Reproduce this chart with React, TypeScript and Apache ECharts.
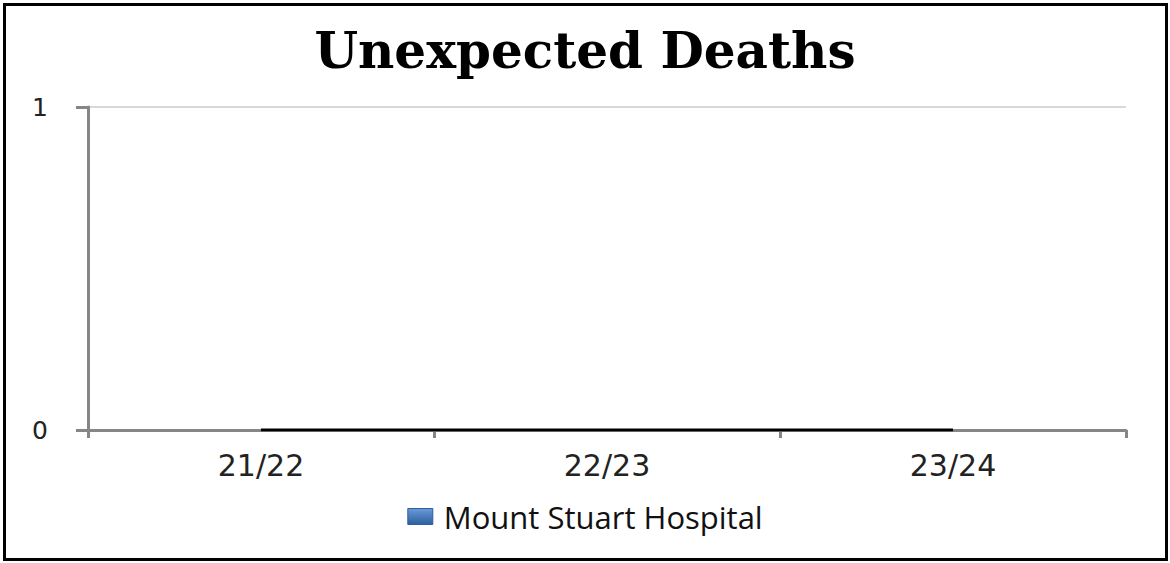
import React, { useEffect, useRef } from "react";
import * as echarts from "echarts";

const categories = ["21/22", "22/23", "23/24"];
const seriesName = "Mount Stuart Hospital";
const values = [0, 0, 0];
const yMin = 0;
const yMax = 1;
const yInterval = 1;
const titleText = "Unexpected Deaths";

export default function App() {
  const ref = useRef<HTMLDivElement>(null);
  useEffect(() => {
    document.body.style.margin = "0";
    if (!ref.current) return;
    const chart = echarts.init(ref.current, undefined, { renderer: "svg" });
    chart.setOption({
      animation: false,
      backgroundColor: "#ffffff",
      title: {
        text: titleText,
        left: "center",
        top: 20,
        textStyle: {
          fontFamily: "DejaVu Serif",
          fontWeight: "bold",
          fontSize: 50,
          color: "#000",
        },
      },
      legend: {
        bottom: 26,
        left: "center",
        itemWidth: 25,
        itemHeight: 16,
        data: [
          {
            name: seriesName,
            icon: "rect",
            itemStyle: {
              color: new echarts.graphic.LinearGradient(0, 0, 0, 1, [
                { offset: 0, color: "#6a9ad8" },
                { offset: 1, color: "#2d5f9e" },
              ]),
              borderColor: "#2d5f9e",
              borderWidth: 1,
            },
          },
        ],
        textStyle: {
          fontFamily: "Open Sans",
          fontSize: 31,
          color: "#111",
          padding: [0, 0, 0, 6],
        },
      },
      grid: { left: 88, right: 44, top: 107, bottom: 133 },
      xAxis: {
        type: "category",
        data: categories,
        boundaryGap: true,
        axisLine: { lineStyle: { color: "#868686", width: 3 } },
        axisTick: { show: true, length: 8, lineStyle: { color: "#868686", width: 3 } },
        axisLabel: {
          fontFamily: "DejaVu Sans",
          fontSize: 30,
          color: "#222",
          margin: 20,
        },
        splitLine: { show: false },
      },
      yAxis: {
        type: "value",
        min: yMin,
        max: yMax,
        interval: yInterval,
        axisLine: { show: true, lineStyle: { color: "#868686", width: 3 } },
        axisTick: { show: true, length: 12, lineStyle: { color: "#868686", width: 3 } },
        axisLabel: {
          fontFamily: "DejaVu Sans",
          fontSize: 25,
          color: "#222",
          margin: 40,
        },
        splitLine: { show: true, lineStyle: { color: "#d9d9d9", width: 2 } },
      },
      series: [
        {
          name: seriesName,
          type: "line",
          data: values,
          showSymbol: false,
          symbol: "none",
          lineStyle: { color: "#000", width: 3 },
          itemStyle: { color: "#3a6fb5" },
          z: 5,
        },
      ],
      graphic: [
        {
          type: "rect",
          shape: { x: 4.5, y: 4.5, width: 1162, height: 555 },
          style: { fill: "none", stroke: "#000", lineWidth: 3 },
          silent: true,
        },
      ],
    });
    return () => chart.dispose();
  }, []);
  return <div ref={ref} style={{ width: 1170, height: 563 }} />;
}
